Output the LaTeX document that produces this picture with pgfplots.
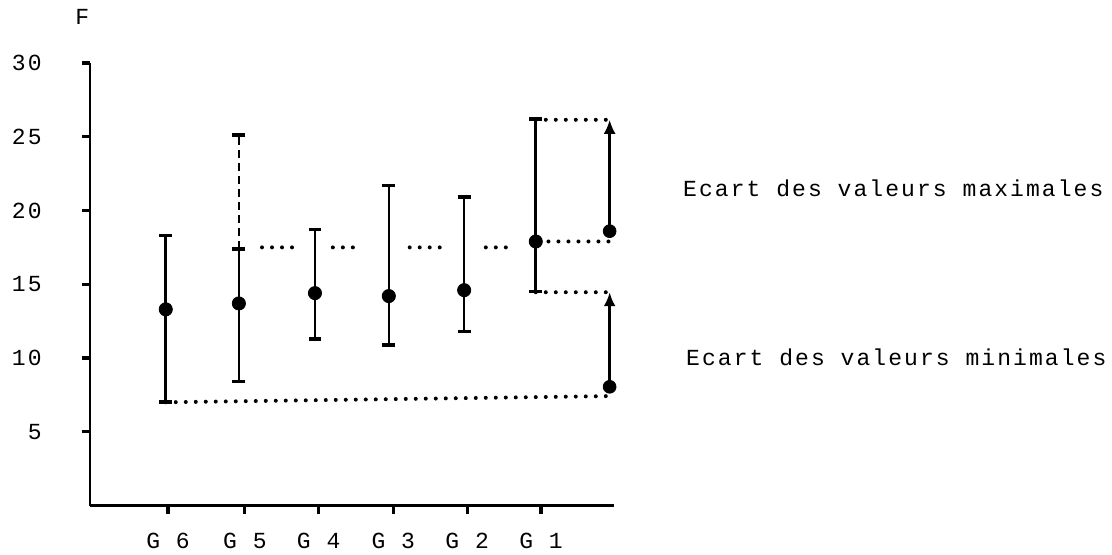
\documentclass[border=0pt]{standalone}
\usepackage{fontspec}
\setmainfont{Liberation Mono}[LetterSpace=9]
\usepackage{pgfplots}
\pgfplotsset{compat=1.18}
\usepackage{pgfplotstable}
\usetikzlibrary{arrows.meta}

% x = position of the bar, mean = dot, ep/em = distance to max/min
\pgfplotstableread{
x    mean ep  em
0.97 13.3 5.0 6.3
1.95 13.7 3.7 5.3
2.97 14.4 4.3 3.1
3.96 14.2 7.5 3.3
4.97 14.6 6.3 2.8
5.93 17.9 8.3 3.4
}\groups

\begin{document}
\begin{tikzpicture}
\begin{axis}[
  scale only axis, width=262pt, height=221.25pt,
  xmin=-0.0456, xmax=6.979, ymin=0, ymax=30,
  axis x line=bottom, axis y line=left,
  axis line style={-, line width=1.3pt},
  tick align=outside, major tick length=4pt,
  tick style={line width=1.6pt, black},
  xtick={1,2.03,3.02,4.02,5.01,6},
  xticklabels={G 6,G 5,G 4,G 3,G 2,G 1},
  ytick={5,10,15,20,25,30},
  /pgf/number format/assume math mode=true,
  ticklabel style={font=\fontsize{11.5}{13}\selectfont},
  yticklabel style={anchor=east, inner sep=0pt, xshift=-20pt},
  xticklabel style={anchor=north, inner sep=0pt, yshift=-9.75pt},
  clip=false,
]
% bounding box matching the reference proportions
\path (axis cs:-1.252,-3.288) rectangle (axis cs:13.654,34.271);

% dotted guide lines
\addplot[line width=2pt, dash pattern=on 0pt off 5pt, line cap=round]
  coordinates {(0.97,7.0) (6.92,7.42)};
\addplot[line width=2pt, dash pattern=on 0pt off 5pt, line cap=round, unbounded coords=jump]
  coordinates {(2.26,17.5) (2.68,17.5) (2.9,nan) (3.21,17.5) (3.60,17.5) (3.8,nan)
               (4.24,17.5) (4.67,17.5) (4.8,nan) (5.26,17.5) (5.61,17.5)};
\addplot[line width=2pt, dash pattern=on 0pt off 5pt, line cap=round]
  coordinates {(6.10,17.9) (6.92,17.9)};
\addplot[line width=2pt, dash pattern=on 0pt off 5pt, line cap=round]
  coordinates {(5.93,26.15) (6.92,26.15)};
\addplot[line width=2pt, dash pattern=on 0pt off 5pt, line cap=round]
  coordinates {(5.93,14.46) (6.92,14.46)};

% dashed upper extension of G5
\addplot[line width=1.3pt, dash pattern=on 4pt off 2.5pt, mark=-, mark indices={2},
  mark options={solid, line width=1.8pt, mark size=3.2pt}]
  coordinates {(1.95,17.4) (1.95,25.1)};

% min - mean - max bars
\addplot[only marks, mark=*, mark size=3.3pt, black,
  error bars/.cd, y dir=both, y explicit,
  error bar style={line width=1.3pt, black},
  error mark=|, error mark options={line width=1.8pt, mark size=3.2pt, black}]
  table[x=x, y=mean, y error plus=ep, y error minus=em] {\groups};

% arrows (differences)
\addplot[line width=1.3pt, -{Latex[length=7pt, width=6pt]}]
  coordinates {(6.92,18.6) (6.92,26.15)};
\addplot[line width=1.3pt, -{Latex[length=7pt, width=6pt]}]
  coordinates {(6.92,8.05) (6.92,14.46)};
\addplot[only marks, mark=*, mark size=3.2pt, black]
  coordinates {(6.92,18.6) (6.92,8.05)};

\node[anchor=west, inner sep=0pt, font=\fontsize{11.5}{13}\selectfont]
  at (axis cs:7.90,21.5) {Ecart des valeurs maximales};
\node[anchor=west, inner sep=0pt, font=\fontsize{11.5}{13}\selectfont]
  at (axis cs:7.94,10.07) {Ecart des valeurs minimales};
\node[inner sep=0pt, font=\fontsize{11.5}{13}\selectfont]
  at (axis cs:-0.15,33.1) {F};
\end{axis}
\end{tikzpicture}
\end{document}
